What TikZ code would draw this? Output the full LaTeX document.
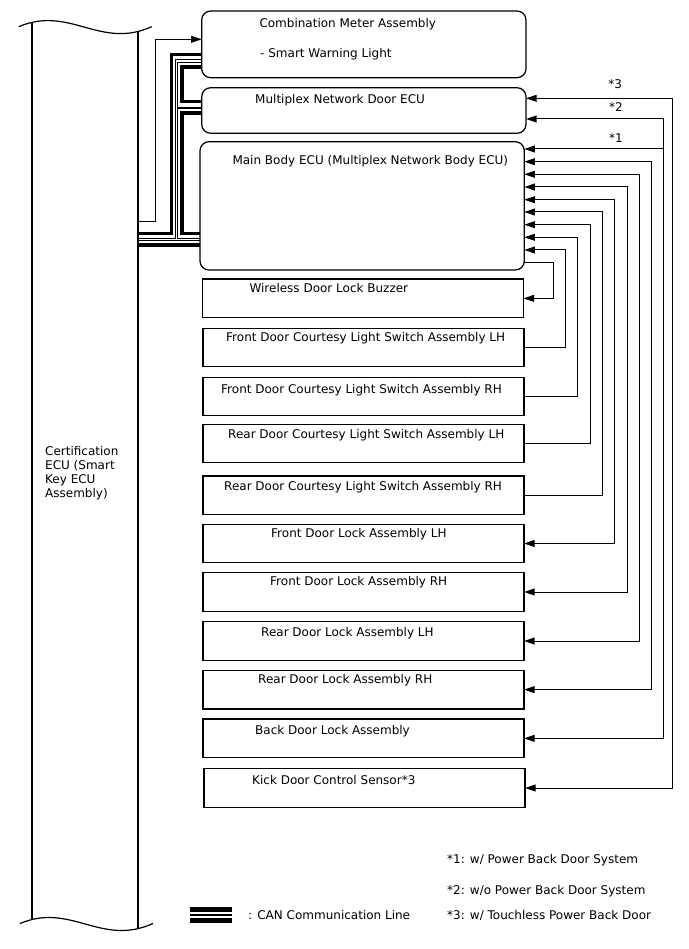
\documentclass[tikz,border=0pt]{standalone}
\usepackage{fontspec}
\setmainfont{DejaVu Sans}
\usetikzlibrary{arrows.meta}
\begin{document}
\begin{tikzpicture}[x=1pt,y=-1pt,
  box/.style={draw, line width=1.25pt, inner sep=0pt, outer sep=0pt, minimum width=321pt, minimum height=38.5pt},
  rbox/.style={box, rounded corners=9pt, minimum width=324.3pt},
  lbl/.style={anchor=base west, inner sep=0pt, font=\fontsize{12}{14}\selectfont},
  star/.style={inner sep=0pt, font=\fontsize{12}{14}\selectfont},
  wire/.style={line width=1pt},
  arr/.style={wire, -{Triangle[length=10.5pt,width=6.8pt]}},
  arrboth/.style={wire, {Triangle[length=10.5pt,width=6.8pt]}-{Triangle[length=10.5pt,width=6.8pt]}},
  canthick/.style={line width=3.6pt},
  canthin/.style={line width=1.1pt},
]
\useasboundingbox (0,0) rectangle (688,949);

% Certification ECU (drawn directly)
\draw[line width=1.2pt] (18.7,26.7) .. controls (70,5) and (100,50) .. (151.7,26.7);
\draw[line width=1.2pt] (20,923.5) .. controls (71,902) and (101,947) .. (153,923.5);
\draw[line width=1.2pt] (32,22.6) -- (32,918.8);
\draw[line width=1.2pt] (138,31.8) -- (138,928.5);
\coordinate (ecu) at (138,0);
\node[lbl] (e1) at (45,455) {Certification};
\node[lbl] (e2) at (45,469.2) {ECU (Smart};
\node[lbl] (e3) at (45,483.4) {Key ECU};
\node[lbl] (e4) at (45,497.6) {Assembly)};

% Boxes
\node[rbox, minimum height=66.7pt] (comb) at (363.85,44.35) {};
\node[rbox, minimum height=45.6pt] (door) at (363.85,110.5) {};
\node[rbox, minimum height=128.3pt] (main) at (362.15,205.85) {};
\node[box] (buzz) at (363,298.35) {};
\node[box] (fclL) at (363.5,347.5) {};
\node[box] (fclR) at (363.5,396.5) {};
\node[box] (rclL) at (363.5,443.5) {};
\node[box] (rclR) at (363.5,495.15) {};
\node[box] (fdlL) at (363.5,543.5) {};
\node[box] (fdlR) at (363.5,592) {};
\node[box] (rdlL) at (363.5,641) {};
\node[box] (rdlR) at (363.5,689.65) {};
\node[box] (bdl) at (363.5,738.35) {};
\node[box] (kick) at (364.5,788) {};

% Box texts
\node[lbl] (t1) at (259.3,27.7) {Combination Meter Assembly};
\node[lbl] (t1b) at (260,57.7) {- Smart Warning Light};
\node[lbl] (t2) at (255,104) {Multiplex Network Door ECU};
\node[lbl] (t3) at (232.3,164.3) {Main Body ECU (Multiplex Network Body ECU)};
\node[lbl] (t4) at (249.3,292.7) {Wireless Door Lock Buzzer};
\node[lbl] (t5) at (226,341) {Front Door Courtesy Light Switch Assembly LH};
\node[lbl] (t6) at (221,393) {Front Door Courtesy Light Switch Assembly RH};
\node[lbl] (t7) at (228,438) {Rear Door Courtesy Light Switch Assembly LH};
\node[lbl] (t8) at (224,490) {Rear Door Courtesy Light Switch Assembly RH};
\node[lbl] (t9) at (271,537) {Front Door Lock Assembly LH};
\node[lbl] (t10) at (270,585) {Front Door Lock Assembly RH};
\node[lbl] (t11) at (261,636) {Rear Door Lock Assembly LH};
\node[lbl] (t12) at (258,683) {Rear Door Lock Assembly RH};
\node[lbl] (t13) at (255,734) {Back Door Lock Assembly};
\node[lbl] (t14) at (252,784) {Kick Door Control Sensor*3};

% Left thin connector
\draw[arr] (ecu |- 0,221.7) -| (155,39.3) -- (comb.west |- 0,39.3);

% CAN lines
\draw[canthick] (ecu |- 0,233.5) -- (171.5,233.5) -- (171.5,54.5) -- (comb.west |- 0,54.5);
\draw[canthin] (ecu |- 0,238.3) -- (175.7,238.3) -- (175.7,59.3) -- (comb.west |- 0,59.3);
\draw[canthick] (comb.west |- 0,67) -- (181.7,67) -- (181.7,101.7) -- (door.west |- 0,101.7);
\draw[canthin] (comb.west |- 0,62.7) -- (177.8,62.7) -- (177.8,108) -- (door.west |- 0,108);
\draw[canthick] (door.west |- 0,113.3) -- (181.7,113.3) -- (181.7,233.5) -- (main.west |- 0,233.5);
\draw[canthin] (177.8,108) -- (177.8,238.3) -- (main.west |- 0,238.3);
\draw[canthin] (ecu |- 0,240.7) -- (main.west |- 0,240.7);
\draw[canthick] (ecu |- 0,245) -- (main.west |- 0,245);

% Right connectors
\draw[arr] (main.east |- 0,262.3) -- (553.3,262.3) |- (buzz.east);
\draw[arr] (fclL.east) -| (565.3,250) -- (main.east |- 0,250);
\draw[arr] (fclR.east) -| (577.7,237.3) -- (main.east |- 0,237.3);
\draw[arr] (rclL.east) -| (590,224.7) -- (main.east |- 0,224.7);
\draw[arr] (rclR.east) -| (602.3,212) -- (main.east |- 0,212);
\draw[arrboth] (main.east |- 0,199.7) -- (614.7,199.7) |- (fdlL.east);
\draw[arrboth] (main.east |- 0,187) -- (627,187) |- (fdlR.east);
\draw[arrboth] (main.east |- 0,174.3) -- (639.3,174.3) |- (rdlL.east);
\draw[arrboth] (main.east |- 0,161.7) -- (651.7,161.7) |- (rdlR.east);
\draw[arrboth] (door.east |- 0,119) -- (663.3,119) |- (bdl.east);
\draw[arr] (663.3,149) -- (main.east |- 0,149);
\draw[arrboth] (door.east |- 0,98.3) -- (672.7,98.3) |- (kick.east);

\node[star] (s3) at (615.3,84) {*3};
\node[star] (s2) at (616,107.5) {*2};
\node[star] (s1) at (616,138) {*1};

% Legend
\draw[line width=5pt] (190,909.5) -- (232,909.5);
\draw[line width=1.2pt] (190,915) -- (232,915);
\draw[line width=5pt] (190,920.5) -- (232,920.5);
\node[lbl] (lcan) at (248,919) {: CAN Communication Line};
\node[lbl] (n1) at (447,863) {*1: w/ Power Back Door System};
\node[lbl] (n2) at (447,894) {*2: w/o Power Back Door System};
\node[lbl] (n3) at (447,919) {*3: w/ Touchless Power Back Door};
\end{tikzpicture}
\end{document}
